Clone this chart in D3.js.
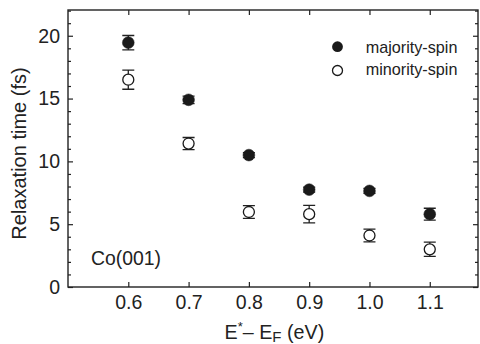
<!DOCTYPE html>
<html>
<head>
<meta charset="utf-8">
<script src="https://cdn.jsdelivr.net/npm/d3@7"></script>
<style>
  body { margin: 0; background: #fff; }
  text { font-family: "Liberation Sans", Arial, sans-serif; fill: #222; }
</style>
</head>
<body>
<svg id="chart"></svg>
<script>
// energies (eV)
var energies = [0.6, 0.7, 0.8, 0.9, 1.0, 1.1];
// relaxation times (fs) and their error bars
var majority = [19.45, 14.9, 10.5, 7.75, 7.65, 5.8];
var majorityErr = [0.57, 0.3, 0.2, 0.2, 0.2, 0.47];
var minority = [16.5, 11.42, 5.97, 5.8, 4.1, 3.0];
var minorityErr = [0.76, 0.48, 0.5, 0.7, 0.5, 0.57];
var xTicks = [0.6, 0.7, 0.8, 0.9, 1.0, 1.1];
var yTicks = [0, 5, 10, 15, 20];

var W = 480, H = 344;
var margin = { top: 10, right: 2, bottom: 57, left: 68 },
  width = W - margin.left - margin.right,
  height = H - margin.top - margin.bottom;

var svg = d3.select("#chart")
  .attr("width", W)
  .attr("height", H)
  .append("g")
  .attr("transform", "translate(" + margin.left + "," + margin.top + ")");

var x = d3.scaleLinear().domain([0.5, 1.18]).range([0, width]);
var y = d3.scaleLinear().domain([0, 22.05]).range([height, 0]);

var minorY = d3.range(0, 23, 1).filter(function (v) { return v % 5 != 0; });

function styleAxis(g) {
  g.select(".domain").remove();
  g.selectAll("line").attr("stroke", "#222").attr("stroke-width", 1.2);
  g.selectAll("text").style("font-size", "19.5px");
}

// bottom axis
svg.append("g")
  .attr("transform", "translate(0," + height + ")")
  .call(d3.axisBottom(x).tickValues(xTicks).tickSize(-5).tickPadding(8).tickFormat(d3.format(".1f")))
  .call(styleAxis);
// top axis
svg.append("g")
  .call(d3.axisTop(x).tickValues(xTicks).tickSize(-5).tickFormat(""))
  .call(styleAxis);
// left axis
svg.append("g")
  .call(d3.axisLeft(y).tickValues(yTicks).tickSize(-5).tickPadding(8))
  .call(styleAxis);
svg.append("g")
  .call(d3.axisLeft(y).tickValues(minorY).tickSize(-3).tickFormat(""))
  .call(styleAxis);
// right axis
svg.append("g")
  .attr("transform", "translate(" + width + ",0)")
  .call(d3.axisRight(y).tickValues(yTicks).tickSize(-5).tickFormat(""))
  .call(styleAxis);
svg.append("g")
  .attr("transform", "translate(" + width + ",0)")
  .call(d3.axisRight(y).tickValues(minorY).tickSize(-3).tickFormat(""))
  .call(styleAxis);

// frame
svg.append("rect")
  .attr("width", width)
  .attr("height", height)
  .attr("fill", "none")
  .attr("stroke", "#222")
  .attr("stroke-width", 1.4);

function drawSeries(vals, errs, filled) {
  var d = energies.map(function (e, i) { return [e, vals[i], errs[i]]; });
  var g = svg.append("g");
  g.selectAll(".eb")
    .data(d).enter().append("path")
    .attr("stroke", "#222")
    .attr("stroke-width", 1.3)
    .attr("fill", "none")
    .attr("d", function (p) {
      var cx = x(p[0]), y1 = y(p[1] + p[2]), y2 = y(p[1] - p[2]);
      return "M" + (cx - 6) + "," + y1 + "H" + (cx + 6) +
        "M" + cx + "," + y1 + "V" + y2 +
        "M" + (cx - 6) + "," + y2 + "H" + (cx + 6);
    });
  g.selectAll("circle")
    .data(d).enter().append("circle")
    .attr("cx", function (p) { return x(p[0]); })
    .attr("cy", function (p) { return y(p[1]); })
    .attr("r", filled ? 5.9 : 5.5)
    .attr("fill", filled ? "#1a1a1a" : "#fff")
    .attr("stroke", "#1a1a1a")
    .attr("stroke-width", filled ? 0.5 : 1.3);
}
drawSeries(majority, majorityErr, true);
drawSeries(minority, minorityErr, false);

// legend
var leg = svg.append("g");
leg.append("circle").attr("cx", 269.5).attr("cy", 36.7).attr("r", 5.4).attr("fill", "#1a1a1a");
leg.append("text").attr("x", 297.7).attr("y", 42.5).style("font-size", "16.2px").text("majority-spin");
leg.append("circle").attr("cx", 269.5).attr("cy", 60.5).attr("r", 5)
  .attr("fill", "#fff").attr("stroke", "#1a1a1a").attr("stroke-width", 1.3);
leg.append("text").attr("x", 297.7).attr("y", 64.5).style("font-size", "16.2px").text("minority-spin");

// sample label
svg.append("text").attr("x", 23).attr("y", 255).style("font-size", "19.4px").text("Co(001)");

// axis titles
svg.append("text")
  .attr("transform", "rotate(-90)")
  .attr("x", -143.5)
  .attr("y", -42.5)
  .attr("text-anchor", "middle")
  .style("font-size", "20px")
  .text("Relaxation time (fs)");

var xt = svg.append("text")
  .attr("x", 206.4)
  .attr("y", 329)
  .attr("text-anchor", "middle")
  .style("font-size", "19.7px");
xt.append("tspan").text("E");
xt.append("tspan").attr("dy", -8).style("font-size", "13px").text("*");
xt.append("tspan").attr("dy", 8).text("\u2013 E");
xt.append("tspan").attr("dy", 3).style("font-size", "15px").text("F");
xt.append("tspan").attr("dy", -3).text(" (eV)");
</script>
</body>
</html>
